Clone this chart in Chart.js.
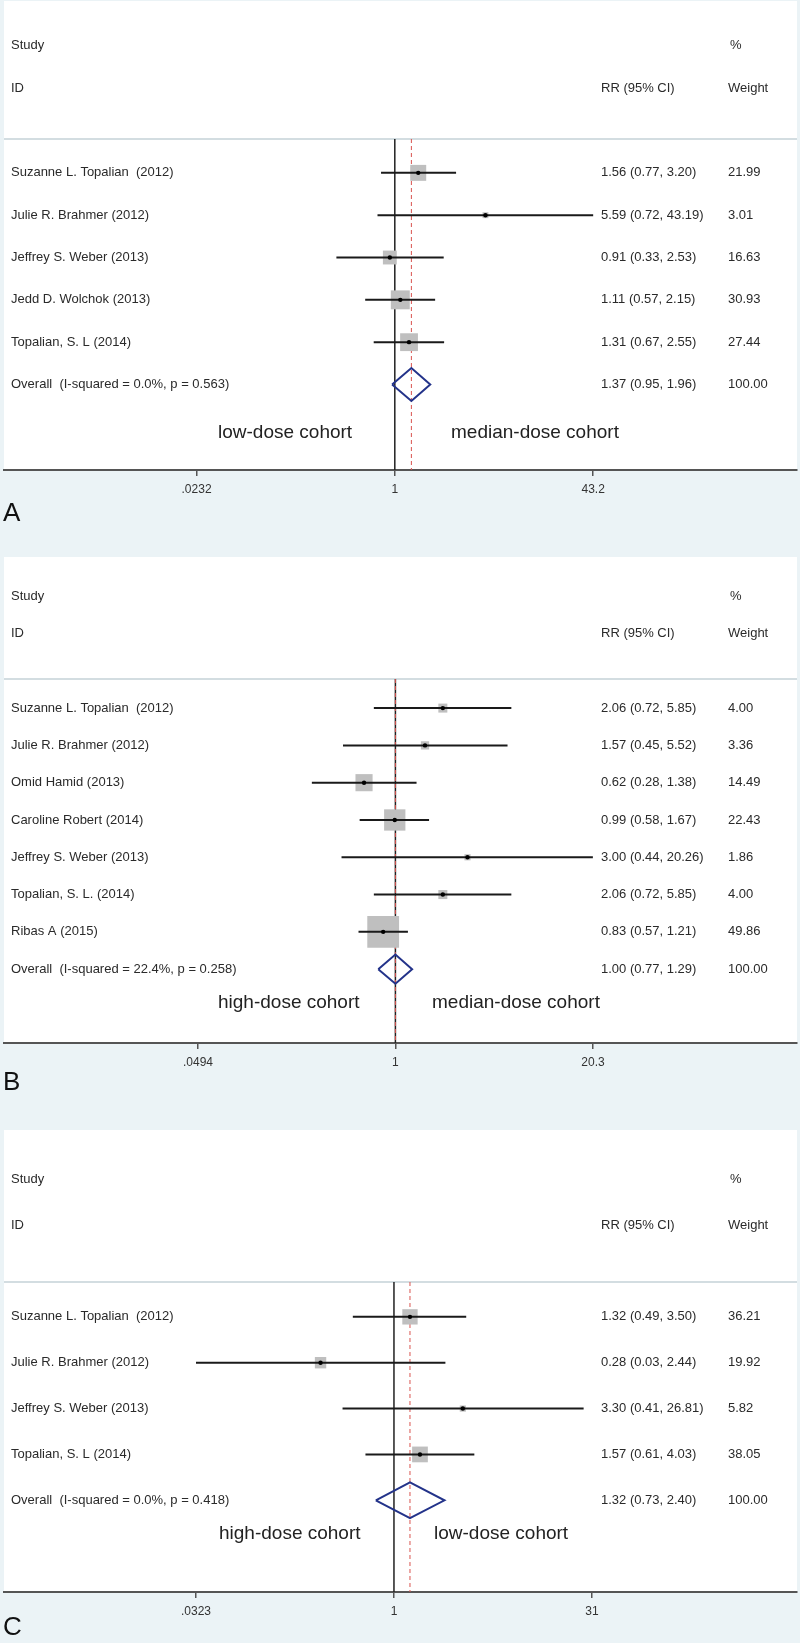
<!DOCTYPE html>
<html>
<head>
<meta charset="utf-8">
<script src="https://cdn.jsdelivr.net/npm/chart.js@4.4.1/dist/chart.umd.min.js"></script>
<style>
body { margin: 0; background: #ebf3f6; width: 800px; height: 1643px; position: relative; overflow: hidden; font-family: 'Liberation Sans', Arial, sans-serif; }
.panel { position: absolute; left: 0; width: 800px; }
.panel canvas { display: block; }
.letter { position: absolute; left: 3px; font-size: 26px; line-height: 26px; color: #111; }
</style>
</head>
<body>
<div class="panel" style="top:0;height:557px"><canvas id="chartA"></canvas></div>
<div class="panel" style="top:557px;height:573px"><canvas id="chartB"></canvas></div>
<div class="panel" style="top:1130px;height:513px"><canvas id="chartC"></canvas></div>
<div class="letter" style="top:499px">A</div>
<div class="letter" style="top:1068px">B</div>
<div class="letter" style="top:1613px">C</div>
<script>
// A: low-dose vs median-dose
const studiesA = ['Suzanne L. Topalian  (2012)', 'Julie R. Brahmer (2012)', 'Jeffrey S. Weber (2013)', 'Jedd D. Wolchok (2013)', 'Topalian, S. L (2014)'];
const rrA = [1.56, 5.59, 0.91, 1.11, 1.31];
const lowA = [0.77, 0.72, 0.33, 0.57, 0.67];
const highA = [3.20, 43.19, 2.53, 2.15, 2.55];
const weightA = [21.99, 3.01, 16.63, 30.93, 27.44];
const overallA = [1.37, 0.95, 1.96];
const overallLabelA = 'Overall  (I-squared = 0.0%, p = 0.563)';
const ticksA = [0.0232, 1, 43.2];
const tickLabelsA = ['.0232', '1', '43.2'];
const cohortsA = ['low-dose cohort', 'median-dose cohort'];

// B: high-dose vs median-dose
const studiesB = ['Suzanne L. Topalian  (2012)', 'Julie R. Brahmer (2012)', 'Omid Hamid (2013)', 'Caroline Robert (2014)', 'Jeffrey S. Weber (2013)', 'Topalian, S. L. (2014)', 'Ribas A (2015)'];
const rrB = [2.06, 1.57, 0.62, 0.99, 3.00, 2.06, 0.83];
const lowB = [0.72, 0.45, 0.28, 0.58, 0.44, 0.72, 0.57];
const highB = [5.85, 5.52, 1.38, 1.67, 20.26, 5.85, 1.21];
const weightB = [4.00, 3.36, 14.49, 22.43, 1.86, 4.00, 49.86];
const overallB = [1.00, 0.77, 1.29];
const overallLabelB = 'Overall  (I-squared = 22.4%, p = 0.258)';
const ticksB = [0.0494, 1, 20.3];
const tickLabelsB = ['.0494', '1', '20.3'];
const cohortsB = ['high-dose cohort', 'median-dose cohort'];

// C: high-dose vs low-dose (Brahmer lower bound sits on the .0323 tick)
const studiesC = ['Suzanne L. Topalian  (2012)', 'Julie R. Brahmer (2012)', 'Jeffrey S. Weber (2013)', 'Topalian, S. L (2014)'];
const rrC = [1.32, 0.28, 3.30, 1.57];
const lowC = [0.49, 0.0323, 0.41, 0.61];
const highC = [3.50, 2.44, 26.81, 4.03];
const weightC = [36.21, 19.92, 5.82, 38.05];
const overallC = [1.32, 0.73, 2.40];
const overallLabelC = 'Overall  (I-squared = 0.0%, p = 0.418)';
const ticksC = [0.0323, 1, 31];
const tickLabelsC = ['.0323', '1', '31'];
const cohortsC = ['high-dose cohort', 'low-dose cohort'];

const FONT = '"Liberation Sans", Arial, sans-serif';
const fmt = v => v.toFixed(2);

const forestText = {
    id: 'forestText',
    beforeDraw(chart, args, o) {
        const ctx = chart.ctx;
        const area = chart.chartArea;
        ctx.save();
        ctx.fillStyle = '#ffffff';
        ctx.fillRect(4, o.whiteTop, 793, area.bottom - o.whiteTop);
        ctx.strokeStyle = '#d3dde1';
        ctx.lineWidth = 2;
        ctx.beginPath();
        ctx.moveTo(4, area.top);
        ctx.lineTo(797, area.top);
        ctx.stroke();
        ctx.restore();
    },
    afterDraw(chart, args, o) {
        const ctx = chart.ctx;
        const y = chart.scales.y;
        ctx.save();
        ctx.fillStyle = '#2a2a2a';
        ctx.textBaseline = 'middle';
        ctx.font = '13px ' + FONT;
        ctx.fillText('Study', 11, y.getPixelForValue(-3));
        ctx.fillText('%', 730, y.getPixelForValue(-3));
        ctx.fillText('ID', 11, y.getPixelForValue(-2));
        ctx.fillText('RR (95% CI)', 601, y.getPixelForValue(-2));
        ctx.fillText('Weight', 728, y.getPixelForValue(-2));
        o.studies.forEach((s, i) => {
            const py = y.getPixelForValue(i);
            ctx.fillText(s, 11, py);
            ctx.fillText(`${fmt(o.rr[i])} (${fmt(o.low[i])}, ${fmt(o.high[i])})`, 601, py);
            ctx.fillText(fmt(o.weight[i]), 728, py);
        });
        const n = o.studies.length;
        const py = y.getPixelForValue(n);
        ctx.fillText(o.overallLabel, 11, py);
        ctx.fillText(`${fmt(o.overall[0])} (${fmt(o.overall[1])}, ${fmt(o.overall[2])})`, 601, py);
        ctx.fillText('100.00', 728, py);

        ctx.font = '19px ' + FONT;
        ctx.fillStyle = '#222';
        const cy = y.getPixelForValue(o.cohortY);
        ctx.fillText(o.cohorts[0], o.cohortX[0], cy);
        ctx.fillText(o.cohorts[1], o.cohortX[1], cy);
        ctx.restore();
    }
};

function makeForest(id, d, lay) {
    const L = 4, R = 797;
    const lg0 = Math.log10(d.ticks[0]);
    const lg2 = Math.log10(d.ticks[d.ticks.length - 1]);
    const s = (lay.tickPx[1] - lay.tickPx[0]) / (lg2 - lg0);
    const xMin = Math.pow(10, lg0 - (lay.tickPx[0] - L) / s);
    const xMax = Math.pow(10, lg2 + (R - lay.tickPx[1]) / s);
    const n = d.studies.length;
    const h = 0.39;

    const datasets = [];
    datasets.push({
        type: 'line', data: [{x: 1, y: lay.yMin}, {x: 1, y: lay.yMax}],
        borderColor: '#222', borderWidth: 1.5, pointRadius: 0, order: 6
    });
    datasets.push({
        type: 'line', data: [{x: d.overall[0], y: lay.yMin}, {x: d.overall[0], y: lay.yMax}],
        borderColor: '#d9534f', borderDash: [4, 3], borderWidth: 1, pointRadius: 0, order: 5
    });
    datasets.push({
        type: 'scatter', data: d.rr.map((v, i) => ({x: v, y: i})),
        pointStyle: 'rect', pointRadius: d.weight.map(w => lay.boxK * Math.sqrt(w) / Math.SQRT2),
        backgroundColor: '#bfbfbf', borderWidth: 0, order: 4
    });
    d.rr.forEach((v, i) => {
        datasets.push({
            type: 'line', data: [{x: d.low[i], y: i}, {x: d.high[i], y: i}],
            borderColor: '#1a1a1a', borderWidth: 2, pointRadius: 0, order: 2
        });
    });
    datasets.push({
        type: 'line',
        data: [
            {x: d.overall[1], y: n}, {x: d.overall[0], y: n - h},
            {x: d.overall[2], y: n}, {x: d.overall[0], y: n + h},
            {x: d.overall[1], y: n}
        ],
        borderColor: '#23338a', borderWidth: 2, pointRadius: 0, fill: false, order: 3
    });
    datasets.push({
        type: 'scatter', data: d.rr.map((v, i) => ({x: v, y: i})),
        pointRadius: 2.2, backgroundColor: '#000', borderWidth: 0, order: 1
    });

    new Chart(document.getElementById(id), {
        type: 'scatter',
        data: { datasets },
        plugins: [forestText],
        options: {
            responsive: true,
            maintainAspectRatio: false,
            animation: false,
            events: [],
            layout: {
                autoPadding: false,
                padding: { top: lay.top, bottom: lay.height - lay.bottom - 30, left: L, right: 800 - R }
            },
            plugins: {
                legend: { display: false },
                tooltip: { enabled: false },
                forestText: {
                    studies: d.studies, rr: d.rr, low: d.low, high: d.high, weight: d.weight,
                    overall: d.overall, overallLabel: d.overallLabel, cohorts: d.cohorts,
                    cohortY: lay.cohortY, cohortX: lay.cohortX, whiteTop: lay.whiteTop
                }
            },
            scales: {
                x: {
                    type: 'logarithmic', min: xMin, max: xMax,
                    afterBuildTicks: (scale) => { scale.ticks = d.ticks.map(v => ({ value: v })); },
                    afterFit: (scale) => { scale.height = 30; },
                    ticks: {
                        autoSkip: false, maxRotation: 0, padding: 6,
                        color: '#333', font: { family: FONT, size: 12 },
                        callback: (v, i) => d.tickLabels[i]
                    },
                    grid: { drawOnChartArea: false, drawTicks: true, tickLength: 6, color: '#555', lineWidth: 1.5 },
                    border: { display: true, color: '#555', width: 2 }
                },
                y: { type: 'linear', reverse: true, min: lay.yMin, max: lay.yMax, display: false }
            }
        }
    });
}

makeForest('chartA', {
    studies: studiesA, rr: rrA, low: lowA, high: highA, weight: weightA,
    overall: overallA, overallLabel: overallLabelA, ticks: ticksA, tickLabels: tickLabelsA, cohorts: cohortsA
}, { yMin: -0.8, yMax: 7.02, top: 139, bottom: 470, height: 557, tickPx: [196, 593], boxK: 3.4, cohortY: 6.15, cohortX: [218, 451], whiteTop: 1 });

makeForest('chartB', {
    studies: studiesB, rr: rrB, low: lowB, high: highB, weight: weightB,
    overall: overallB, overallLabel: overallLabelB, ticks: ticksB, tickLabels: tickLabelsB, cohorts: cohortsB
}, { yMin: -0.78, yMax: 8.98, top: 122, bottom: 486, height: 573, tickPx: [198, 593], boxK: 4.5, cohortY: 7.91, cohortX: [218, 432], whiteTop: 0 });

makeForest('chartC', {
    studies: studiesC, rr: rrC, low: lowC, high: highC, weight: weightC,
    overall: overallC, overallLabel: overallLabelC, ticks: ticksC, tickLabels: tickLabelsC, cohorts: cohortsC
}, { yMin: -0.76, yMax: 6.0, top: 152, bottom: 462, height: 513, tickPx: [196, 592], boxK: 2.55, cohortY: 4.72, cohortX: [219, 434], whiteTop: 0 });
</script>
</body>
</html>
